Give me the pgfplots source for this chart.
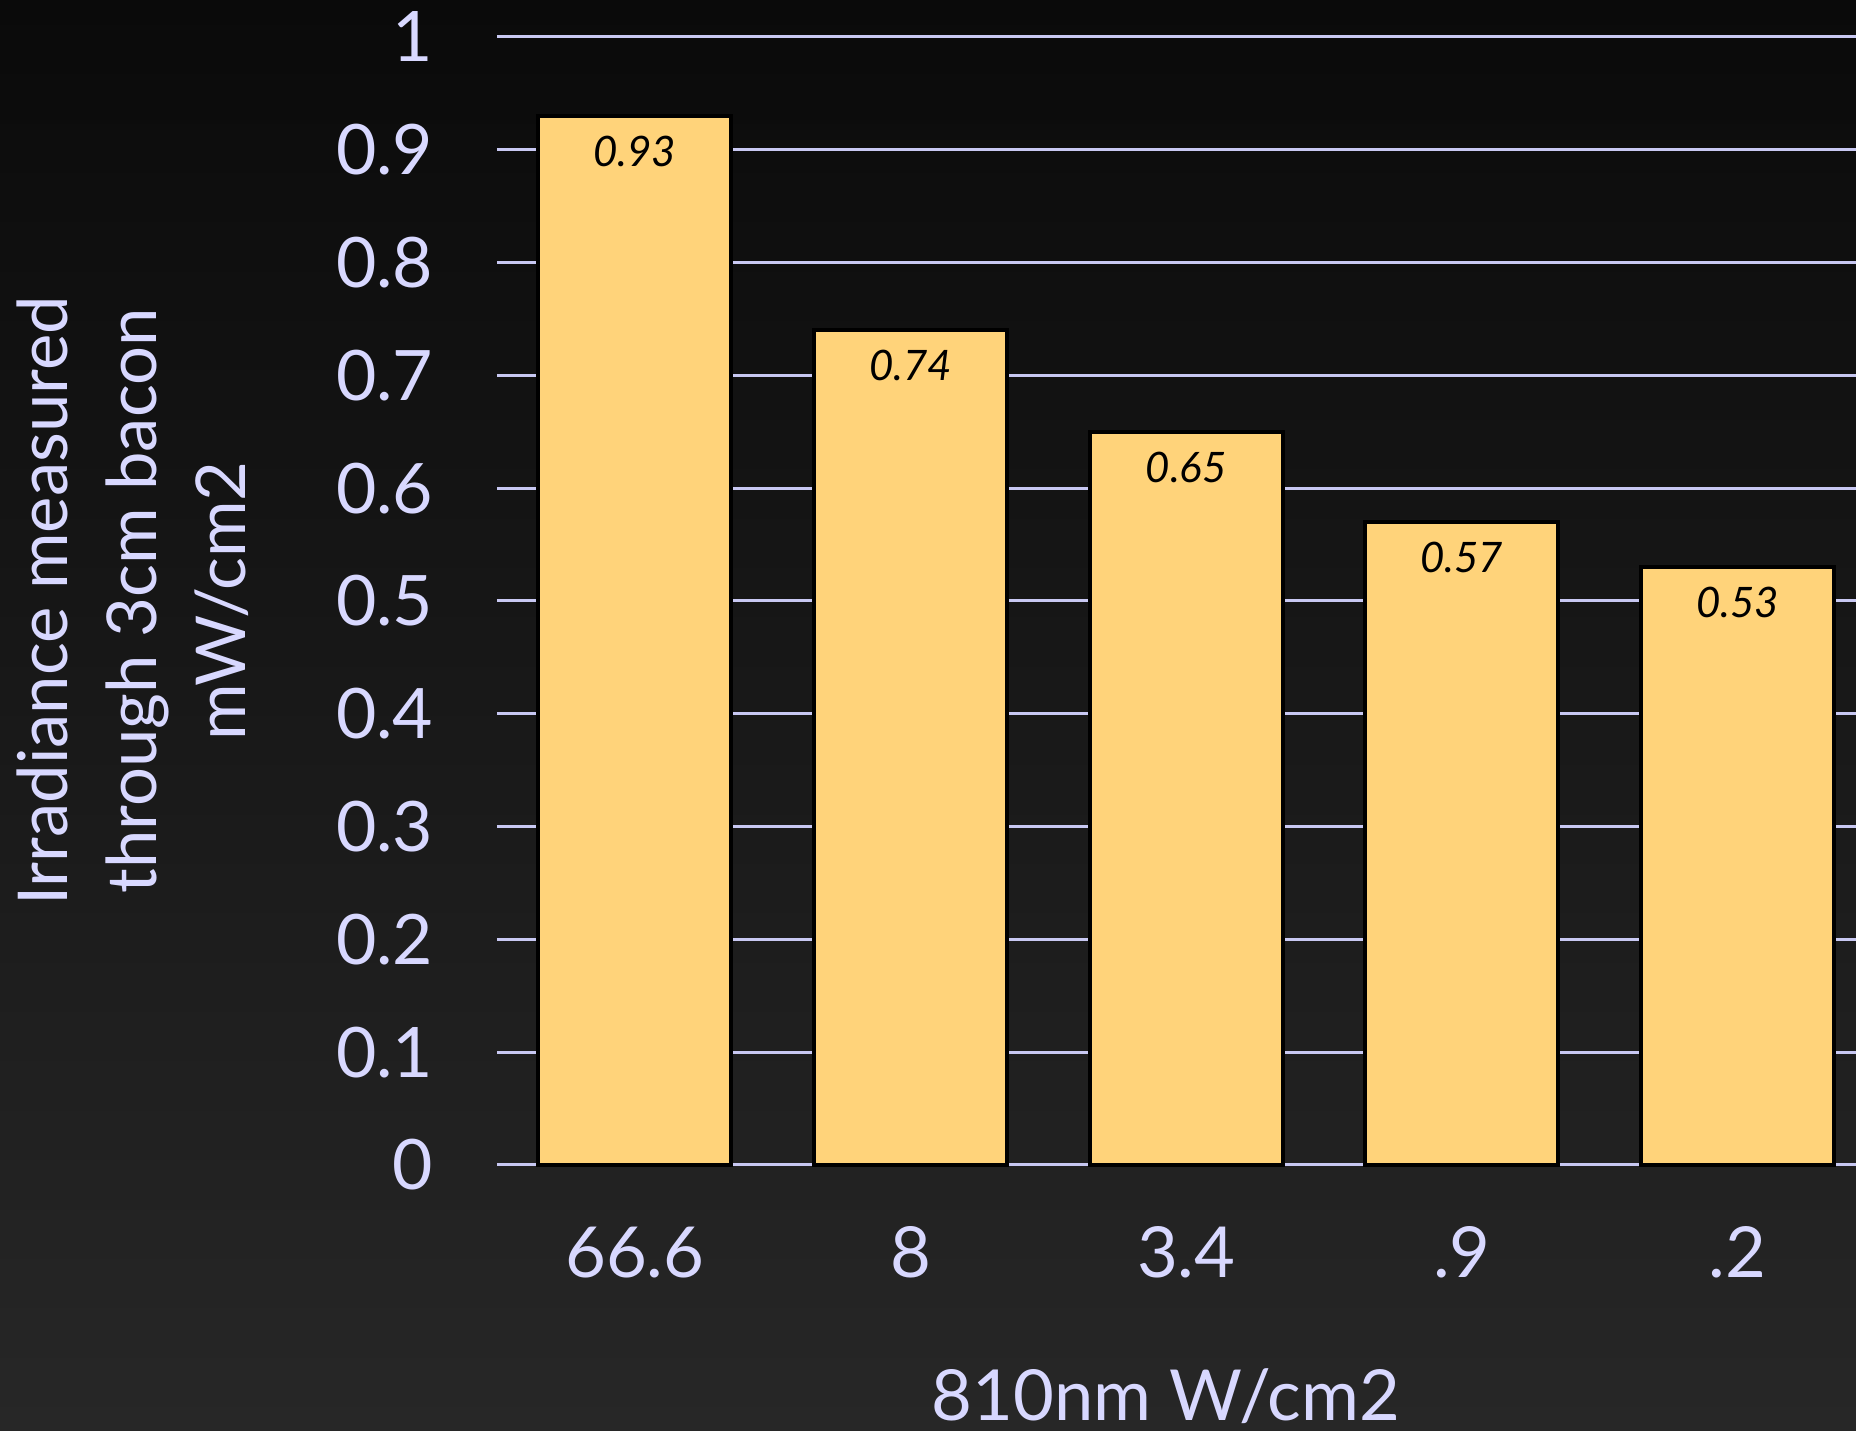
\documentclass[border=0pt]{standalone}
\usepackage{pgfplots}
\pgfplotsset{compat=1.18}
\usepackage{fontspec}
\setmainfont{Lato}
\definecolor{bartan}{HTML}{FFD37A}
\definecolor{lav}{HTML}{D8D8FF}
\definecolor{gridlav}{HTML}{C8C8F2}
\definecolor{bgtop}{HTML}{0A0A0A}
\definecolor{bgbot}{HTML}{272727}
\begin{document}
\begin{tikzpicture}
\useasboundingbox (-124.25pt,-66.5pt) rectangle (339.75pt,291.25pt);
\shade[top color=bgtop, bottom color=bgbot] (-124.25pt,-66.5pt) rectangle (339.75pt,291.25pt);
\begin{axis}[
  at={(0,0)}, anchor=south west,
  scale only axis,
  width=339.75pt, height=282pt,
  xmin=-0.5, xmax=4.43,
  ymin=0, ymax=1,
  axis line style={draw=none},
  major tick length=0pt,
  ytick={0,0.1,...,1},
  xtick={0,1,2,3,4},
  xticklabels={66.6,8,3.4,.9,.2},
  ymajorgrids,
  grid style={gridlav, line width=0.75pt},
  /pgf/number format/assume math mode=true,
  /pgf/number format/fixed,
  yticklabel style={inner sep=0pt, xshift=-15.75pt, text=lav, font=\fontsize{17.4}{21}\selectfont,
    /pgf/number format/precision=1},
  xticklabel style={inner sep=0pt, yshift=-15.25pt, text=lav, font=\fontsize{17.6}{21}\selectfont},
  ylabel={Irradiance measured\\through 3cm bacon\\mW/cm2},
  ylabel style={at={(axis description cs:-0.268,0.5)}, anchor=center, align=center,
    text=lav, font=\fontsize{17.2}{22.25}\selectfont},
  xlabel={810nm W/cm2},
  xlabel style={at={(axis description cs:0.4923,-0.2265)}, anchor=base,
    text=lav, font=\fontsize{17.6}{21}\selectfont},
  clip=false,
]
\addplot[ybar, bar width=0.7, fill=bartan, draw=black, line width=1pt,
  nodes near coords,
  nodes near coords style={anchor=north, inner sep=0pt, yshift=-4.5pt, text=black,
    font=\fontsize{10.5}{12}\selectfont\itshape, /pgf/number format/precision=2}]
  coordinates {(0,0.93) (1,0.74) (2,0.65) (3,0.57) (4,0.53)};
\end{axis}
\end{tikzpicture}
\end{document}
